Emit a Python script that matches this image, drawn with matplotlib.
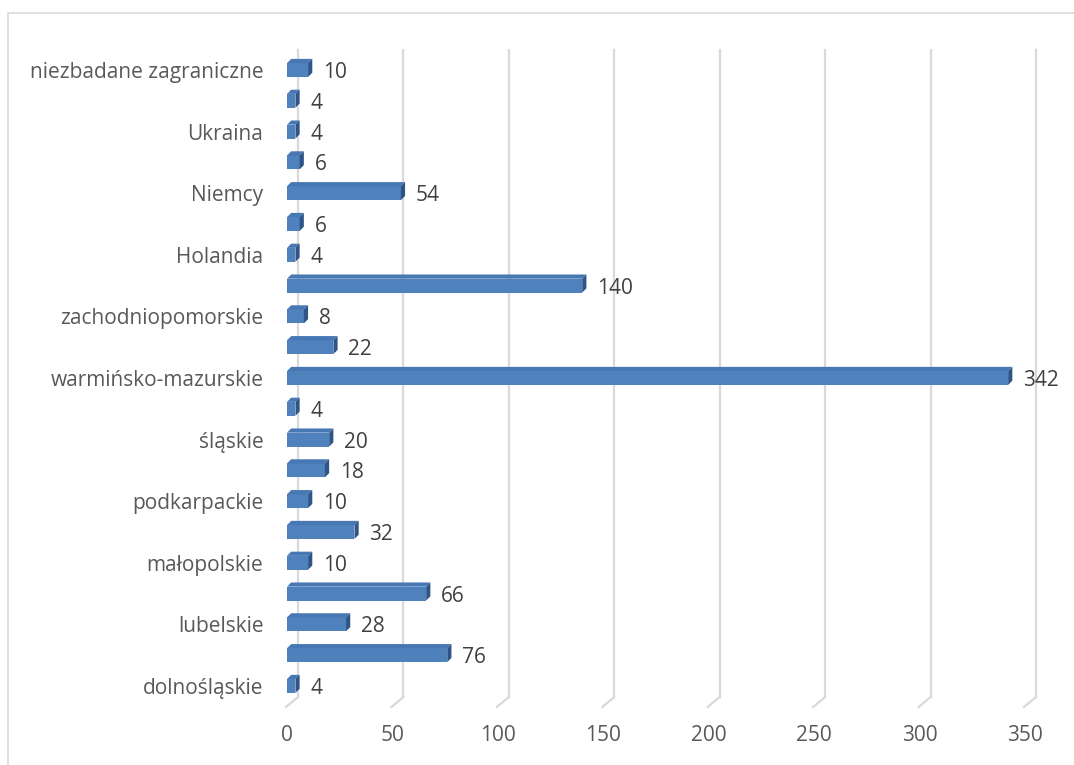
import matplotlib
matplotlib.use('Agg')
import matplotlib.pyplot as plt
from matplotlib.patches import Polygon, Rectangle
from matplotlib.lines import Line2D
from matplotlib.transforms import IdentityTransform

categories = ['dolnośląskie', 'kujawsko-pomorskie', 'lubelskie', 'łódzkie',
              'małopolskie', 'mazowieckie', 'podkarpackie', 'pomorskie',
              'śląskie', 'świętokrzyskie', 'warmińsko-mazurskie', 'wielkopolskie',
              'zachodniopomorskie', 'niezbadane krajowe', 'Holandia', 'Litwa',
              'Niemcy', 'Rosja', 'Ukraina', 'Wielka Brytania',
              'niezbadane zagraniczne']
values = [4, 76, 28, 66, 10, 32, 10, 18, 20, 4, 342, 22, 8, 140, 4, 6, 54, 6, 4, 4, 10]
xticks = [0, 50, 100, 150, 200, 250, 300, 350]

FONT = 'Open Sans'
TXT = '#595959'
VAL = '#404040'
GRID = '#D9D9D9'
FRONT = '#4F81BD'
TOP = '#4878B4'
SIDE = '#2F5586'

W, H = 1074, 765
DPI = 100
fig = plt.figure(figsize=(W / DPI, H / DPI), dpi=DPI)
fig.patch.set_facecolor('white')

# outer chart border (cropped at right/bottom)
fig.add_artist(Rectangle((8 / W, -0.1), 1.2, 1 - 13 / H + 0.1, transform=fig.transFigure,
                         fill=False, ec=GRID, lw=1.2, clip_on=False))

ax = fig.add_axes([287 / W, 1 - 706 / H, (1025 - 287) / W, (706 - 50) / H])
ax.set_xlim(0, 350)
ax.set_ylim(-0.65, 20.65)
ax.set_autoscale_on(False)
for s in ax.spines.values():
    s.set_visible(False)
ax.set_facecolor('none')

ident = IdentityTransform()
GDX, GDY = 11, 9   # wall depth in px

# gridlines on the back wall + floor diagonals
for t in xticks:
    x0, y0 = ax.transData.transform((t, -0.65))
    _, ytop = ax.transData.transform((t, 20.65))
    ax.add_line(Line2D([x0 + GDX, x0 + GDX], [y0 + GDY, ytop], transform=ident,
                       color=GRID, lw=1.6, clip_on=False, zorder=1))
    ax.add_line(Line2D([x0 - 1, x0 + GDX], [y0 - 1, y0 + GDY], transform=ident,
                       color=GRID, lw=1.6, clip_on=False, zorder=1))

# bars
h = 0.45
d = 4.2
ax.barh(range(len(values)), values, height=h, left=0, color=FRONT, zorder=3)
for i, v in enumerate(values):
    xl, yb = ax.transData.transform((0, i - h / 2))
    xr, yt = ax.transData.transform((v, i + h / 2))
    ax.add_patch(Polygon([(xl, yt), (xr, yt), (xr + d, yt + d), (xl + d, yt + d)],
                         closed=True, transform=ident, fc=TOP, ec='none',
                         clip_on=False, zorder=3))
    ax.add_patch(Polygon([(xr, yb), (xr, yt), (xr + d, yt + d), (xr + d, yb + d)],
                         closed=True, transform=ident, fc=SIDE, ec='none',
                         clip_on=False, zorder=3))
    ax.annotate(str(v), xy=(v, i), xytext=(10.8, -1.8), textcoords='offset points',
                ha='left', va='center', fontsize=15, color=VAL, family=FONT,
                zorder=4, annotation_clip=False)

ax.set_yticks(range(0, len(categories), 2))
ax.set_yticklabels(categories[::2], family=FONT, fontsize=15, color=TXT)
ax.set_xticks(xticks)
ax.set_xticklabels([str(t) for t in xticks], family=FONT, fontsize=15, color=TXT)
ax.tick_params(axis='y', length=0, pad=17)
ax.tick_params(axis='x', length=0, pad=14)

fig.savefig('out.png', dpi=DPI, facecolor='white')
